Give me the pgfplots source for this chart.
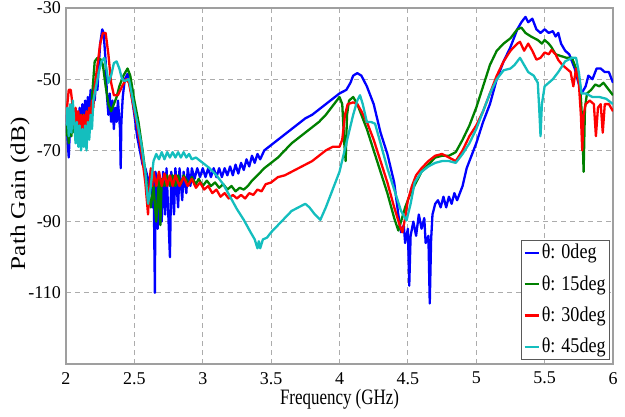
\documentclass[border=0pt]{standalone}
\usepackage{fontspec}
\setmainfont{Liberation Serif}
\newfontfamily\xlabfont{Liberation Serif}[FakeStretch=0.77]
\newfontfamily\ylabfont{Liberation Serif}[FakeStretch=1.2]
\newfontfamily\legfont{Liberation Serif}[FakeStretch=0.86]
\usepackage{pgfplots}
\pgfplotsset{compat=1.18}
\definecolor{mblue}{RGB}{0,0,255}
\definecolor{mgreen}{RGB}{0,128,0}
\definecolor{mred}{RGB}{255,0,0}
\definecolor{mcyan}{RGB}{20,190,190}
\begin{document}
\fontsize{18}{21}\selectfont
\begin{tikzpicture}
\begin{axis}[
  width=547pt, height=356pt, scale only axis,
  xmin=2, xmax=6, ymin=-130, ymax=-30,
  xtick={2,2.5,3,3.5,4,4.5,5,5.5,6},
  xticklabels={2,2.5,3,3.5,4,4.5,5,5.5,6},
  ytick={-30,-50,-70,-90,-110},
  yticklabels={-30,-50,-70,-90,-110},
  ticklabel style={font=\fontsize{18}{21}\selectfont},
  xticklabel style={yshift=-2pt},
  yticklabel style={xshift=1pt},
  xlabel={Frequency (GHz)},
  ylabel={Path Gain (dB)},
  xlabel style={font=\fontsize{22}{24}\xlabfont, at={(axis description cs:0.5,-0.1)}, anchor=center},
  ylabel style={font=\fontsize{21}{24}\ylabfont, at={(axis description cs:-0.084,0.478)}, anchor=center},
  grid=major,
  major grid style={dash pattern=on 5pt off 4pt, color=gray!65, line width=0.9pt},
  axis line style={gray!75, line width=1.3pt},
  major tick length=0pt,
  every axis plot/.append style={line width=2.3pt, line join=round},
  legend style={at={(1,0)}, anchor=south east, xshift=-3pt, yshift=4pt, draw=gray!70!black, line width=0.8pt,
    font=\fontsize{21}{23}\legfont, row sep=10pt, inner sep=2pt, cells={anchor=west}},
  legend image code/.code={\draw[#1] (0pt,0pt) -- (14pt,0pt);},
]
\addplot[mblue] coordinates {
(2.000,-60)(2.010,-66)(2.020,-72)(2.030,-63)(2.040,-58)(2.050,-63)(2.060,-60)(2.070,-65)(2.080,-59)(2.090,-64)
(2.100,-58)(2.110,-63)(2.120,-57)(2.130,-62)(2.140,-56)(2.150,-61)(2.160,-55)(2.170,-60)(2.180,-53)(2.190,-59)
(2.200,-52)(2.210,-56)(2.220,-50)(2.230,-53)(2.240,-46)(2.250,-40)(2.265,-36)(2.275,-37)(2.290,-45)(2.300,-55)
(2.310,-60)(2.320,-54)(2.330,-62)(2.340,-56)(2.350,-64)(2.360,-58)(2.370,-62)(2.380,-56)(2.395,-64)(2.400,-75)
(2.405,-62)(2.415,-55)(2.430,-50)(2.450,-48.5)(2.470,-52)(2.500,-60)(2.520,-66)(2.540,-70)(2.560,-74)(2.580,-75)
(2.600,-78)(2.610,-80)(2.620,-76)(2.630,-86)(2.640,-76)(2.650,-110)(2.655,-76)(2.670,-92)(2.680,-76)(2.700,-90)
(2.710,-76)(2.725,-88)(2.735,-75)(2.760,-100)(2.770,-76)(2.790,-88)(2.800,-75)(2.820,-86)(2.830,-75)(2.850,-84)
(2.860,-76)(2.880,-82)(2.890,-75)(2.910,-80)(2.920,-75)(2.940,-78)(2.960,-75)(2.980,-77.5)(3.000,-75)(3.020,-77.5)
(3.040,-75)(3.060,-77.5)(3.080,-75)(3.100,-77.5)(3.120,-75)(3.140,-77.5)(3.160,-75)(3.180,-77)(3.200,-74.5)(3.220,-77)
(3.240,-74)(3.260,-76.5)(3.280,-73.5)(3.300,-75.5)(3.320,-72.5)(3.340,-74.5)(3.360,-71.5)(3.380,-73.5)(3.400,-71)(3.420,-72.5)
(3.45,-70)(3.5,-68.5)(3.55,-67)(3.6,-65.5)(3.65,-64)(3.7,-62.5)(3.75,-61)(3.8,-60)(3.85,-58.5)(3.9,-57)
(3.95,-55.5)(4.0,-54)(4.05,-53)(4.08,-51)(4.1,-49)(4.13,-48.3)(4.16,-49)(4.2,-52)(4.25,-57)(4.3,-65)
(4.35,-71)(4.4,-79)(4.43,-88)(4.45,-93)(4.47,-91)(4.48,-96)(4.5,-92)(4.51,-108)(4.52,-94)(4.54,-90)
(4.56,-94)(4.58,-88)(4.6,-92)(4.62,-89)(4.63,-96)(4.65,-94)(4.66,-113)(4.67,-95)(4.68,-88)(4.7,-85)
(4.72,-84)(4.74,-86)(4.76,-83)(4.78,-86)(4.8,-83)(4.82,-85)(4.84,-82)(4.86,-84)(4.88,-82)(4.9,-80)
(4.93,-75)(4.96,-72)(5.0,-68)(5.05,-62)(5.1,-57)(5.15,-50)(5.2,-45)(5.25,-41)(5.3,-36)(5.33,-34)
(5.36,-32.5)(5.38,-34)(5.41,-33)(5.44,-36)(5.47,-37)(5.5,-36)(5.53,-37)(5.56,-36.5)(5.58,-38)(5.6,-37)
(5.62,-40)(5.65,-42)(5.68,-43)(5.7,-45)(5.72,-47)(5.74,-50)(5.77,-54)(5.8,-52)(5.82,-49)(5.85,-50)
(5.88,-47)(5.91,-47)(5.94,-48)(5.97,-48)(6.0,-51)
};
\addlegendentry{θ: 0deg}
\addplot[mgreen] coordinates {
(2.0,-66)(2.01,-62)(2.02,-68)(2.03,-60)(2.04,-66)(2.05,-58)(2.06,-65)(2.08,-60)(2.1,-66)(2.12,-60)
(2.14,-65)(2.16,-59)(2.18,-63)(2.19,-55)(2.2,-50)(2.21,-45)(2.23,-44)(2.255,-44.5)(2.27,-46)(2.29,-52)
(2.31,-57)(2.33,-59)(2.35,-57)(2.37,-55)(2.39,-52)(2.42,-49)(2.45,-47)(2.47,-49)(2.5,-56)(2.53,-62)
(2.56,-70)(2.59,-79)(2.62,-86)(2.64,-80)(2.66,-90)(2.68,-78)(2.69,-91)(2.7,-78)(2.72,-80)(2.74,-77)
(2.76,-80)(2.78,-77)(2.8,-80)(2.82,-77)(2.84,-79.5)(2.86,-77)(2.9,-79.5)(2.92,-77.5)(2.95,-79.5)(2.97,-78)
(3.0,-80)(3.03,-78.5)(3.06,-80)(3.09,-79)(3.12,-80.5)(3.15,-79.5)(3.18,-81)(3.21,-80)(3.24,-81.5)(3.27,-80.5)
(3.3,-81)(3.33,-80)(3.36,-78.5)(3.4,-77)(3.45,-75)(3.5,-73.5)(3.55,-72)(3.6,-70)(3.65,-68)(3.7,-66.5)
(3.75,-65)(3.8,-63.5)(3.85,-62)(3.9,-60)(3.95,-57.5)(4.0,-55)(4.02,-57)(4.035,-68)(4.045,-73)(4.055,-60)
(4.07,-56)(4.1,-55)(4.13,-57)(4.17,-61)(4.2,-64)(4.25,-70)(4.3,-76)(4.35,-82)(4.4,-89)(4.43,-92.5)
(4.45,-90)(4.48,-86)(4.52,-82)(4.56,-79)(4.6,-76)(4.65,-74)(4.7,-72)(4.75,-71.5)(4.8,-71.5)(4.85,-70.5)
(4.9,-67)(4.95,-63)(5.0,-58)(5.05,-52)(5.1,-46)(5.15,-42)(5.2,-40)(5.25,-38.5)(5.3,-36)(5.33,-35.5)
(5.36,-37)(5.4,-38)(5.45,-39)(5.48,-40)(5.5,-39)(5.53,-40)(5.55,-41)(5.58,-43)(5.62,-43.5)(5.66,-44)
(5.7,-44)(5.73,-47)(5.76,-52)(5.775,-62)(5.785,-76)(5.795,-58)(5.81,-54)(5.84,-53)(5.87,-51.5)(5.9,-52)
(5.93,-51)(5.96,-52.5)(6.0,-54.5)
};
\addlegendentry{θ: 15deg}
\addplot[mred] coordinates {
(2.0,-62)(2.01,-57)(2.02,-53)(2.035,-53)(2.05,-58)(2.06,-63)(2.07,-58)(2.08,-64)(2.09,-59)(2.1,-65)
(2.11,-60)(2.12,-66)(2.13,-60)(2.14,-65)(2.15,-59)(2.16,-64)(2.17,-58)(2.18,-62)(2.19,-56)(2.2,-58)
(2.21,-52)(2.23,-46)(2.25,-40)(2.27,-37)(2.29,-37)(2.31,-43)(2.33,-51)(2.35,-54.5)(2.38,-54.5)(2.41,-52)
(2.44,-50)(2.46,-51)(2.49,-57)(2.52,-63)(2.55,-70)(2.58,-79)(2.6,-88)(2.61,-80)(2.62,-75)(2.63,-80)
(2.64,-76)(2.66,-80)(2.68,-76)(2.7,-80)(2.72,-76.5)(2.74,-80)(2.76,-77)(2.78,-80)(2.8,-77)(2.83,-80)
(2.86,-77.5)(2.89,-80)(2.92,-78)(2.95,-80.5)(2.98,-79)(3.01,-81)(3.04,-80)(3.07,-82)(3.1,-81)(3.13,-83)
(3.16,-82)(3.19,-83.5)(3.22,-82.5)(3.25,-83.5)(3.28,-82.5)(3.31,-83.5)(3.34,-82)(3.37,-82.5)(3.4,-81)(3.43,-81.5)
(3.46,-79.5)(3.5,-79)(3.55,-77.5)(3.6,-77)(3.65,-76)(3.7,-75)(3.75,-74)(3.8,-73)(3.85,-71.5)(3.9,-70)
(3.95,-69)(4.0,-69)(4.02,-67)(4.04,-60)(4.06,-57)(4.1,-56.5)(4.13,-57)(4.16,-59)(4.2,-62)(4.25,-67)
(4.3,-73)(4.35,-79)(4.4,-86)(4.44,-91)(4.46,-93)(4.48,-89)(4.5,-84)(4.53,-80)(4.56,-77)(4.6,-75)
(4.65,-73)(4.7,-71.5)(4.75,-71)(4.8,-72)(4.85,-73)(4.9,-70)(4.95,-66)(5.0,-63)(5.05,-59)(5.1,-54)
(5.15,-49)(5.2,-45)(5.25,-42)(5.3,-40)(5.32,-39.5)(5.35,-42)(5.38,-40)(5.41,-42)(5.44,-44.5)(5.47,-44)
(5.5,-42.5)(5.53,-43)(5.55,-41.8)(5.58,-43)(5.6,-44.6)(5.63,-46)(5.66,-47)(5.69,-48)(5.71,-52)(5.73,-47)
(5.75,-51)(5.765,-60)(5.775,-70)(5.785,-60)(5.8,-57)(5.83,-56)(5.86,-57)(5.875,-66)(5.89,-58)(5.91,-57)
(5.925,-65)(5.94,-57)(5.97,-57)(6.0,-59)
};
\addlegendentry{θ: 30deg}
\addplot[mcyan] coordinates {
(2.0,-63)(2.01,-58)(2.02,-66)(2.03,-57)(2.04,-65)(2.05,-56)(2.06,-62)(2.07,-68)(2.08,-62)(2.09,-69)
(2.1,-63)(2.11,-70)(2.12,-64)(2.13,-69)(2.14,-63)(2.15,-70)(2.16,-62)(2.17,-67)(2.18,-60)(2.19,-64)
(2.2,-56)(2.22,-52)(2.24,-48)(2.26,-45)(2.28,-44)(2.3,-48)(2.31,-51)(2.33,-49)(2.35,-45.5)(2.37,-45)
(2.39,-47)(2.41,-50)(2.43,-50.5)(2.46,-50)(2.49,-56)(2.52,-62)(2.55,-68)(2.58,-76)(2.6,-85)(2.62,-80)
(2.64,-73)(2.66,-71)(2.68,-72.5)(2.7,-70.5)(2.72,-72.5)(2.74,-70.5)(2.76,-72)(2.78,-70.5)(2.8,-72)(2.82,-70.5)
(2.84,-72)(2.86,-70.5)(2.88,-72)(2.9,-71)(2.92,-72.5)(2.95,-72)(3.0,-73.5)(3.05,-75)(3.1,-77)(3.15,-79.5)
(3.2,-83)(3.25,-86.5)(3.3,-89.5)(3.35,-93)(3.38,-95)(3.4,-97.5)(3.41,-95.5)(3.42,-97.5)(3.44,-95)(3.47,-94.5)
(3.5,-93)(3.55,-91)(3.6,-89)(3.65,-87)(3.7,-86)(3.75,-85)(3.78,-86)(3.82,-88)(3.86,-89.5)(3.9,-86)
(3.95,-81)(4.0,-76)(4.05,-68)(4.1,-60)(4.13,-56)(4.15,-54.5)(4.17,-57)(4.2,-62)(4.23,-62)(4.26,-62.5)
(4.3,-68)(4.35,-75)(4.4,-81)(4.45,-87)(4.49,-89.7)(4.52,-85)(4.55,-79)(4.6,-76)(4.65,-74.5)(4.7,-73.5)
(4.75,-73)(4.8,-73)(4.85,-73.5)(4.9,-71)(4.95,-68)(5.0,-64)(5.05,-59)(5.1,-54)(5.15,-50)(5.2,-47.5)
(5.25,-47)(5.28,-46)(5.32,-44)(5.35,-46)(5.38,-48)(5.42,-49)(5.45,-51)(5.46,-58)(5.47,-66)(5.48,-57)
(5.5,-52)(5.53,-51)(5.56,-50)(5.6,-48)(5.65,-45)(5.7,-44)(5.73,-44)(5.75,-48)(5.77,-54)(5.8,-54)
(5.85,-55)(5.9,-55)(5.95,-55.5)(6.0,-57)
};
\addlegendentry{θ: 45deg}
\end{axis}
\pgfresetboundingbox
\path[use as bounding box] ([xshift=-66pt,yshift=-52pt]current axis.south west) rectangle ([xshift=12pt,yshift=8pt]current axis.north east);
\end{tikzpicture}
\end{document}
